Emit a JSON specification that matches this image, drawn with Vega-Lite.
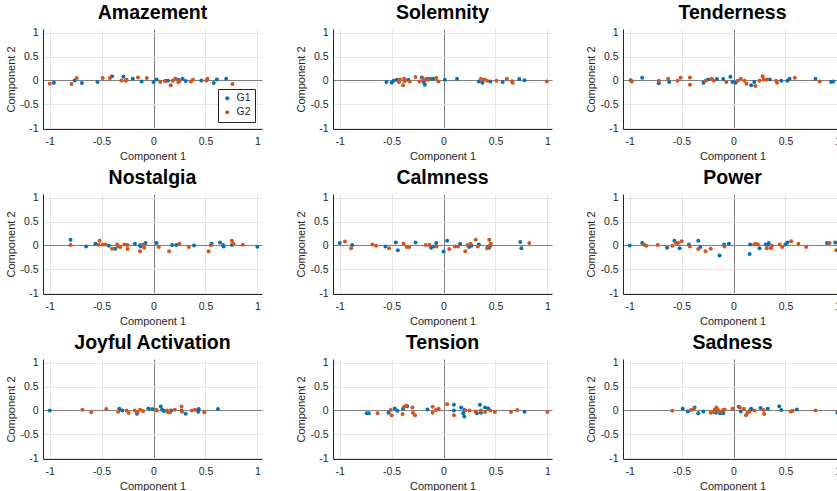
{
  "$schema": "https://vega.github.io/schema/vega-lite/v6.json",
  "padding": {"left": 5, "top": 3, "right": 0, "bottom": 0},
  "bounds": "flush",
  "columns": 3,
  "spacing": {"row": 65, "column": 71},
  "resolve": {"legend": {"color": "independent"}},
  "datasets": {
    "scores": [
      {"emotion": "Amazement", "group": "G1", "pc1": -0.96, "pc2": -0.05},
      {"emotion": "Amazement", "group": "G1", "pc1": -0.76, "pc2": 0.0},
      {"emotion": "Amazement", "group": "G1", "pc1": -0.69, "pc2": -0.055},
      {"emotion": "Amazement", "group": "G1", "pc1": -0.54, "pc2": -0.035},
      {"emotion": "Amazement", "group": "G1", "pc1": -0.40, "pc2": 0.09},
      {"emotion": "Amazement", "group": "G1", "pc1": -0.29, "pc2": 0.075},
      {"emotion": "Amazement", "group": "G1", "pc1": -0.20, "pc2": 0.035},
      {"emotion": "Amazement", "group": "G1", "pc1": -0.115, "pc2": -0.02},
      {"emotion": "Amazement", "group": "G1", "pc1": 0.0, "pc2": -0.035},
      {"emotion": "Amazement", "group": "G1", "pc1": 0.03, "pc2": 0.02},
      {"emotion": "Amazement", "group": "G1", "pc1": 0.115, "pc2": -0.005},
      {"emotion": "Amazement", "group": "G1", "pc1": 0.14, "pc2": -0.005},
      {"emotion": "Amazement", "group": "G1", "pc1": 0.24, "pc2": 0.015},
      {"emotion": "Amazement", "group": "G1", "pc1": 0.28, "pc2": 0.035},
      {"emotion": "Amazement", "group": "G1", "pc1": 0.31, "pc2": -0.01},
      {"emotion": "Amazement", "group": "G1", "pc1": 0.46, "pc2": 0.0},
      {"emotion": "Amazement", "group": "G1", "pc1": 0.58, "pc2": -0.055},
      {"emotion": "Amazement", "group": "G1", "pc1": 0.61, "pc2": 0.02},
      {"emotion": "Amazement", "group": "G1", "pc1": 0.70, "pc2": 0.035},
      {"emotion": "Amazement", "group": "G2", "pc1": -1.0, "pc2": -0.07},
      {"emotion": "Amazement", "group": "G2", "pc1": -0.79, "pc2": -0.075},
      {"emotion": "Amazement", "group": "G2", "pc1": -0.74, "pc2": 0.05},
      {"emotion": "Amazement", "group": "G2", "pc1": -0.49, "pc2": 0.05},
      {"emotion": "Amazement", "group": "G2", "pc1": -0.42, "pc2": 0.05},
      {"emotion": "Amazement", "group": "G2", "pc1": -0.31, "pc2": 0.0},
      {"emotion": "Amazement", "group": "G2", "pc1": -0.27, "pc2": -0.005},
      {"emotion": "Amazement", "group": "G2", "pc1": -0.26, "pc2": 0.015},
      {"emotion": "Amazement", "group": "G2", "pc1": -0.15, "pc2": 0.06},
      {"emotion": "Amazement", "group": "G2", "pc1": -0.065, "pc2": 0.05},
      {"emotion": "Amazement", "group": "G2", "pc1": 0.065, "pc2": -0.035},
      {"emotion": "Amazement", "group": "G2", "pc1": 0.11, "pc2": -0.015},
      {"emotion": "Amazement", "group": "G2", "pc1": 0.165, "pc2": -0.10},
      {"emotion": "Amazement", "group": "G2", "pc1": 0.185, "pc2": -0.005},
      {"emotion": "Amazement", "group": "G2", "pc1": 0.21, "pc2": 0.04},
      {"emotion": "Amazement", "group": "G2", "pc1": 0.24, "pc2": -0.04},
      {"emotion": "Amazement", "group": "G2", "pc1": 0.25, "pc2": -0.005},
      {"emotion": "Amazement", "group": "G2", "pc1": 0.36, "pc2": -0.02},
      {"emotion": "Amazement", "group": "G2", "pc1": 0.38, "pc2": 0.015},
      {"emotion": "Amazement", "group": "G2", "pc1": 0.51, "pc2": 0.0},
      {"emotion": "Amazement", "group": "G2", "pc1": 0.52, "pc2": 0.035},
      {"emotion": "Amazement", "group": "G2", "pc1": 0.76, "pc2": -0.075},

      {"emotion": "Solemnity", "group": "G1", "pc1": -0.55, "pc2": -0.035},
      {"emotion": "Solemnity", "group": "G1", "pc1": -0.50, "pc2": -0.05},
      {"emotion": "Solemnity", "group": "G1", "pc1": -0.48, "pc2": -0.005},
      {"emotion": "Solemnity", "group": "G1", "pc1": -0.45, "pc2": 0.015},
      {"emotion": "Solemnity", "group": "G1", "pc1": -0.34, "pc2": 0.015},
      {"emotion": "Solemnity", "group": "G1", "pc1": -0.21, "pc2": 0.06},
      {"emotion": "Solemnity", "group": "G1", "pc1": -0.19, "pc2": -0.035},
      {"emotion": "Solemnity", "group": "G1", "pc1": -0.18, "pc2": -0.09},
      {"emotion": "Solemnity", "group": "G1", "pc1": -0.16, "pc2": 0.035},
      {"emotion": "Solemnity", "group": "G1", "pc1": -0.13, "pc2": 0.035},
      {"emotion": "Solemnity", "group": "G1", "pc1": -0.10, "pc2": 0.035},
      {"emotion": "Solemnity", "group": "G1", "pc1": 0.013, "pc2": 0.015},
      {"emotion": "Solemnity", "group": "G1", "pc1": 0.13, "pc2": 0.035},
      {"emotion": "Solemnity", "group": "G1", "pc1": 0.34, "pc2": -0.02},
      {"emotion": "Solemnity", "group": "G1", "pc1": 0.375, "pc2": -0.05},
      {"emotion": "Solemnity", "group": "G1", "pc1": 0.45, "pc2": -0.02},
      {"emotion": "Solemnity", "group": "G1", "pc1": 0.57, "pc2": -0.035},
      {"emotion": "Solemnity", "group": "G1", "pc1": 0.73, "pc2": 0.03},
      {"emotion": "Solemnity", "group": "G1", "pc1": 0.78, "pc2": 0.005},
      {"emotion": "Solemnity", "group": "G2", "pc1": -0.43, "pc2": -0.035},
      {"emotion": "Solemnity", "group": "G2", "pc1": -0.42, "pc2": 0.02},
      {"emotion": "Solemnity", "group": "G2", "pc1": -0.39, "pc2": -0.10},
      {"emotion": "Solemnity", "group": "G2", "pc1": -0.38, "pc2": 0.035},
      {"emotion": "Solemnity", "group": "G2", "pc1": -0.375, "pc2": -0.015},
      {"emotion": "Solemnity", "group": "G2", "pc1": -0.325, "pc2": -0.02},
      {"emotion": "Solemnity", "group": "G2", "pc1": -0.27, "pc2": 0.07},
      {"emotion": "Solemnity", "group": "G2", "pc1": -0.23, "pc2": -0.02},
      {"emotion": "Solemnity", "group": "G2", "pc1": -0.20, "pc2": 0.05},
      {"emotion": "Solemnity", "group": "G2", "pc1": -0.18, "pc2": 0.005},
      {"emotion": "Solemnity", "group": "G2", "pc1": -0.15, "pc2": 0.015},
      {"emotion": "Solemnity", "group": "G2", "pc1": -0.07, "pc2": 0.05},
      {"emotion": "Solemnity", "group": "G2", "pc1": -0.05, "pc2": -0.02},
      {"emotion": "Solemnity", "group": "G2", "pc1": 0.36, "pc2": 0.035},
      {"emotion": "Solemnity", "group": "G2", "pc1": 0.395, "pc2": 0.02},
      {"emotion": "Solemnity", "group": "G2", "pc1": 0.42, "pc2": -0.005},
      {"emotion": "Solemnity", "group": "G2", "pc1": 0.51, "pc2": -0.005},
      {"emotion": "Solemnity", "group": "G2", "pc1": 0.61, "pc2": 0.035},
      {"emotion": "Solemnity", "group": "G2", "pc1": 0.66, "pc2": -0.015},
      {"emotion": "Solemnity", "group": "G2", "pc1": 0.665, "pc2": -0.05},
      {"emotion": "Solemnity", "group": "G2", "pc1": 0.995, "pc2": -0.02},

      {"emotion": "Tenderness", "group": "G1", "pc1": -0.99, "pc2": 0.005},
      {"emotion": "Tenderness", "group": "G1", "pc1": -0.88, "pc2": 0.055},
      {"emotion": "Tenderness", "group": "G1", "pc1": -0.72, "pc2": -0.06},
      {"emotion": "Tenderness", "group": "G1", "pc1": -0.62, "pc2": -0.035},
      {"emotion": "Tenderness", "group": "G1", "pc1": -0.29, "pc2": -0.05},
      {"emotion": "Tenderness", "group": "G1", "pc1": -0.245, "pc2": 0.02},
      {"emotion": "Tenderness", "group": "G1", "pc1": -0.16, "pc2": 0.03},
      {"emotion": "Tenderness", "group": "G1", "pc1": -0.10, "pc2": 0.03},
      {"emotion": "Tenderness", "group": "G1", "pc1": -0.03, "pc2": 0.075},
      {"emotion": "Tenderness", "group": "G1", "pc1": -0.01, "pc2": -0.035},
      {"emotion": "Tenderness", "group": "G1", "pc1": 0.02, "pc2": -0.05},
      {"emotion": "Tenderness", "group": "G1", "pc1": 0.17, "pc2": -0.10},
      {"emotion": "Tenderness", "group": "G1", "pc1": 0.20, "pc2": -0.035},
      {"emotion": "Tenderness", "group": "G1", "pc1": 0.35, "pc2": 0.02},
      {"emotion": "Tenderness", "group": "G1", "pc1": 0.46, "pc2": -0.005},
      {"emotion": "Tenderness", "group": "G1", "pc1": 0.52, "pc2": -0.005},
      {"emotion": "Tenderness", "group": "G1", "pc1": 0.54, "pc2": 0.035},
      {"emotion": "Tenderness", "group": "G1", "pc1": 0.79, "pc2": 0.035},
      {"emotion": "Tenderness", "group": "G1", "pc1": 0.94, "pc2": -0.035},
      {"emotion": "Tenderness", "group": "G1", "pc1": 0.96, "pc2": -0.02},
      {"emotion": "Tenderness", "group": "G2", "pc1": -0.98, "pc2": -0.02},
      {"emotion": "Tenderness", "group": "G2", "pc1": -0.72, "pc2": -0.005},
      {"emotion": "Tenderness", "group": "G2", "pc1": -0.63, "pc2": 0.035},
      {"emotion": "Tenderness", "group": "G2", "pc1": -0.54, "pc2": -0.005},
      {"emotion": "Tenderness", "group": "G2", "pc1": -0.51, "pc2": 0.055},
      {"emotion": "Tenderness", "group": "G2", "pc1": -0.42, "pc2": 0.06},
      {"emotion": "Tenderness", "group": "G2", "pc1": -0.42, "pc2": -0.09},
      {"emotion": "Tenderness", "group": "G2", "pc1": -0.27, "pc2": -0.005},
      {"emotion": "Tenderness", "group": "G2", "pc1": -0.21, "pc2": 0.035},
      {"emotion": "Tenderness", "group": "G2", "pc1": -0.19, "pc2": -0.005},
      {"emotion": "Tenderness", "group": "G2", "pc1": -0.07, "pc2": -0.035},
      {"emotion": "Tenderness", "group": "G2", "pc1": 0.04, "pc2": -0.005},
      {"emotion": "Tenderness", "group": "G2", "pc1": 0.07, "pc2": 0.035},
      {"emotion": "Tenderness", "group": "G2", "pc1": 0.105, "pc2": -0.005},
      {"emotion": "Tenderness", "group": "G2", "pc1": 0.125, "pc2": -0.07},
      {"emotion": "Tenderness", "group": "G2", "pc1": 0.21, "pc2": -0.115},
      {"emotion": "Tenderness", "group": "G2", "pc1": 0.25, "pc2": -0.005},
      {"emotion": "Tenderness", "group": "G2", "pc1": 0.28, "pc2": 0.09},
      {"emotion": "Tenderness", "group": "G2", "pc1": 0.29, "pc2": 0.02},
      {"emotion": "Tenderness", "group": "G2", "pc1": 0.32, "pc2": 0.02},
      {"emotion": "Tenderness", "group": "G2", "pc1": 0.41, "pc2": -0.005},
      {"emotion": "Tenderness", "group": "G2", "pc1": 0.42, "pc2": -0.05},
      {"emotion": "Tenderness", "group": "G2", "pc1": 0.59, "pc2": 0.055},
      {"emotion": "Tenderness", "group": "G2", "pc1": 0.83, "pc2": -0.02},

      {"emotion": "Nostalgia", "group": "G1", "pc1": -0.80, "pc2": 0.12},
      {"emotion": "Nostalgia", "group": "G1", "pc1": -0.65, "pc2": -0.02},
      {"emotion": "Nostalgia", "group": "G1", "pc1": -0.56, "pc2": 0.035},
      {"emotion": "Nostalgia", "group": "G1", "pc1": -0.43, "pc2": -0.005},
      {"emotion": "Nostalgia", "group": "G1", "pc1": -0.37, "pc2": -0.07},
      {"emotion": "Nostalgia", "group": "G1", "pc1": -0.18, "pc2": 0.035},
      {"emotion": "Nostalgia", "group": "G1", "pc1": -0.13, "pc2": 0.005},
      {"emotion": "Nostalgia", "group": "G1", "pc1": -0.125, "pc2": -0.02},
      {"emotion": "Nostalgia", "group": "G1", "pc1": -0.076, "pc2": 0.05},
      {"emotion": "Nostalgia", "group": "G1", "pc1": 0.03, "pc2": 0.05},
      {"emotion": "Nostalgia", "group": "G1", "pc1": 0.18, "pc2": 0.007},
      {"emotion": "Nostalgia", "group": "G1", "pc1": 0.22, "pc2": 0.007},
      {"emotion": "Nostalgia", "group": "G1", "pc1": 0.39, "pc2": 0.0},
      {"emotion": "Nostalgia", "group": "G1", "pc1": 0.56, "pc2": 0.035},
      {"emotion": "Nostalgia", "group": "G1", "pc1": 0.64, "pc2": 0.06},
      {"emotion": "Nostalgia", "group": "G1", "pc1": 0.67, "pc2": 0.007},
      {"emotion": "Nostalgia", "group": "G1", "pc1": 0.675, "pc2": -0.02},
      {"emotion": "Nostalgia", "group": "G1", "pc1": 0.755, "pc2": 0.007},
      {"emotion": "Nostalgia", "group": "G1", "pc1": 1.0, "pc2": -0.03},
      {"emotion": "Nostalgia", "group": "G2", "pc1": -0.80, "pc2": 0.007},
      {"emotion": "Nostalgia", "group": "G2", "pc1": -0.53, "pc2": 0.014},
      {"emotion": "Nostalgia", "group": "G2", "pc1": -0.52, "pc2": 0.10},
      {"emotion": "Nostalgia", "group": "G2", "pc1": -0.49, "pc2": 0.02},
      {"emotion": "Nostalgia", "group": "G2", "pc1": -0.46, "pc2": 0.02},
      {"emotion": "Nostalgia", "group": "G2", "pc1": -0.40, "pc2": -0.07},
      {"emotion": "Nostalgia", "group": "G2", "pc1": -0.35, "pc2": 0.02},
      {"emotion": "Nostalgia", "group": "G2", "pc1": -0.34, "pc2": -0.02},
      {"emotion": "Nostalgia", "group": "G2", "pc1": -0.32, "pc2": -0.035},
      {"emotion": "Nostalgia", "group": "G2", "pc1": -0.28, "pc2": 0.02},
      {"emotion": "Nostalgia", "group": "G2", "pc1": -0.25, "pc2": -0.075},
      {"emotion": "Nostalgia", "group": "G2", "pc1": -0.25, "pc2": 0.007},
      {"emotion": "Nostalgia", "group": "G2", "pc1": -0.13, "pc2": -0.12},
      {"emotion": "Nostalgia", "group": "G2", "pc1": -0.10, "pc2": 0.02},
      {"emotion": "Nostalgia", "group": "G2", "pc1": -0.09, "pc2": -0.05},
      {"emotion": "Nostalgia", "group": "G2", "pc1": 0.05, "pc2": -0.035},
      {"emotion": "Nostalgia", "group": "G2", "pc1": 0.15, "pc2": -0.12},
      {"emotion": "Nostalgia", "group": "G2", "pc1": 0.25, "pc2": 0.035},
      {"emotion": "Nostalgia", "group": "G2", "pc1": 0.34, "pc2": -0.035},
      {"emotion": "Nostalgia", "group": "G2", "pc1": 0.53, "pc2": -0.12},
      {"emotion": "Nostalgia", "group": "G2", "pc1": 0.55, "pc2": 0.007},
      {"emotion": "Nostalgia", "group": "G2", "pc1": 0.755, "pc2": 0.10},
      {"emotion": "Nostalgia", "group": "G2", "pc1": 0.77, "pc2": 0.035},
      {"emotion": "Nostalgia", "group": "G2", "pc1": 0.86, "pc2": 0.014},

      {"emotion": "Calmness", "group": "G1", "pc1": -1.0, "pc2": 0.05},
      {"emotion": "Calmness", "group": "G1", "pc1": -0.88, "pc2": 0.007},
      {"emotion": "Calmness", "group": "G1", "pc1": -0.56, "pc2": -0.02},
      {"emotion": "Calmness", "group": "G1", "pc1": -0.46, "pc2": 0.06},
      {"emotion": "Calmness", "group": "G1", "pc1": -0.44, "pc2": -0.10},
      {"emotion": "Calmness", "group": "G1", "pc1": -0.27, "pc2": 0.06},
      {"emotion": "Calmness", "group": "G1", "pc1": -0.12, "pc2": -0.05},
      {"emotion": "Calmness", "group": "G1", "pc1": -0.09, "pc2": -0.02},
      {"emotion": "Calmness", "group": "G1", "pc1": -0.07, "pc2": 0.05},
      {"emotion": "Calmness", "group": "G1", "pc1": 0.0, "pc2": -0.13},
      {"emotion": "Calmness", "group": "G1", "pc1": 0.035, "pc2": 0.10},
      {"emotion": "Calmness", "group": "G1", "pc1": 0.16, "pc2": 0.035},
      {"emotion": "Calmness", "group": "G1", "pc1": 0.245, "pc2": -0.035},
      {"emotion": "Calmness", "group": "G1", "pc1": 0.27, "pc2": -0.007},
      {"emotion": "Calmness", "group": "G1", "pc1": 0.34, "pc2": 0.02},
      {"emotion": "Calmness", "group": "G1", "pc1": 0.43, "pc2": -0.02},
      {"emotion": "Calmness", "group": "G1", "pc1": 0.44, "pc2": -0.05},
      {"emotion": "Calmness", "group": "G1", "pc1": 0.74, "pc2": 0.07},
      {"emotion": "Calmness", "group": "G1", "pc1": 0.75, "pc2": -0.06},
      {"emotion": "Calmness", "group": "G2", "pc1": -0.95, "pc2": 0.08},
      {"emotion": "Calmness", "group": "G2", "pc1": -0.89, "pc2": -0.06},
      {"emotion": "Calmness", "group": "G2", "pc1": -0.685, "pc2": 0.02},
      {"emotion": "Calmness", "group": "G2", "pc1": -0.65, "pc2": -0.007},
      {"emotion": "Calmness", "group": "G2", "pc1": -0.525, "pc2": -0.06},
      {"emotion": "Calmness", "group": "G2", "pc1": -0.385, "pc2": 0.035},
      {"emotion": "Calmness", "group": "G2", "pc1": -0.355, "pc2": -0.035},
      {"emotion": "Calmness", "group": "G2", "pc1": -0.33, "pc2": -0.035},
      {"emotion": "Calmness", "group": "G2", "pc1": -0.17, "pc2": 0.007},
      {"emotion": "Calmness", "group": "G2", "pc1": -0.135, "pc2": 0.007},
      {"emotion": "Calmness", "group": "G2", "pc1": -0.067, "pc2": -0.02},
      {"emotion": "Calmness", "group": "G2", "pc1": 0.055, "pc2": -0.075},
      {"emotion": "Calmness", "group": "G2", "pc1": 0.11, "pc2": -0.02},
      {"emotion": "Calmness", "group": "G2", "pc1": 0.14, "pc2": -0.02},
      {"emotion": "Calmness", "group": "G2", "pc1": 0.21, "pc2": -0.12},
      {"emotion": "Calmness", "group": "G2", "pc1": 0.23, "pc2": 0.007},
      {"emotion": "Calmness", "group": "G2", "pc1": 0.26, "pc2": 0.035},
      {"emotion": "Calmness", "group": "G2", "pc1": 0.31, "pc2": 0.12},
      {"emotion": "Calmness", "group": "G2", "pc1": 0.33, "pc2": -0.02},
      {"emotion": "Calmness", "group": "G2", "pc1": 0.42, "pc2": -0.06},
      {"emotion": "Calmness", "group": "G2", "pc1": 0.44, "pc2": 0.12},
      {"emotion": "Calmness", "group": "G2", "pc1": 0.45, "pc2": -0.007},
      {"emotion": "Calmness", "group": "G2", "pc1": 0.455, "pc2": 0.035},
      {"emotion": "Calmness", "group": "G2", "pc1": 0.825, "pc2": 0.05},

      {"emotion": "Power", "group": "G1", "pc1": -1.0, "pc2": 0.0},
      {"emotion": "Power", "group": "G1", "pc1": -0.88, "pc2": 0.05},
      {"emotion": "Power", "group": "G1", "pc1": -0.64, "pc2": -0.05},
      {"emotion": "Power", "group": "G1", "pc1": -0.57, "pc2": 0.10},
      {"emotion": "Power", "group": "G1", "pc1": -0.52, "pc2": -0.06},
      {"emotion": "Power", "group": "G1", "pc1": -0.43, "pc2": 0.02},
      {"emotion": "Power", "group": "G1", "pc1": -0.34, "pc2": 0.10},
      {"emotion": "Power", "group": "G1", "pc1": -0.32, "pc2": -0.035},
      {"emotion": "Power", "group": "G1", "pc1": -0.135, "pc2": -0.21},
      {"emotion": "Power", "group": "G1", "pc1": -0.09, "pc2": 0.02},
      {"emotion": "Power", "group": "G1", "pc1": -0.045, "pc2": 0.035},
      {"emotion": "Power", "group": "G1", "pc1": 0.155, "pc2": -0.18},
      {"emotion": "Power", "group": "G1", "pc1": 0.16, "pc2": 0.02},
      {"emotion": "Power", "group": "G1", "pc1": 0.25, "pc2": -0.06},
      {"emotion": "Power", "group": "G1", "pc1": 0.31, "pc2": 0.02},
      {"emotion": "Power", "group": "G1", "pc1": 0.33, "pc2": 0.014},
      {"emotion": "Power", "group": "G1", "pc1": 0.34, "pc2": 0.05},
      {"emotion": "Power", "group": "G1", "pc1": 0.50, "pc2": 0.02},
      {"emotion": "Power", "group": "G1", "pc1": 0.52, "pc2": 0.06},
      {"emotion": "Power", "group": "G1", "pc1": 0.90, "pc2": 0.05},
      {"emotion": "Power", "group": "G1", "pc1": 0.98, "pc2": 0.06},
      {"emotion": "Power", "group": "G2", "pc1": -0.86, "pc2": 0.014},
      {"emotion": "Power", "group": "G2", "pc1": -0.84, "pc2": -0.007},
      {"emotion": "Power", "group": "G2", "pc1": -0.73, "pc2": 0.007},
      {"emotion": "Power", "group": "G2", "pc1": -0.59, "pc2": -0.007},
      {"emotion": "Power", "group": "G2", "pc1": -0.555, "pc2": 0.05},
      {"emotion": "Power", "group": "G2", "pc1": -0.535, "pc2": 0.05},
      {"emotion": "Power", "group": "G2", "pc1": -0.50, "pc2": 0.09},
      {"emotion": "Power", "group": "G2", "pc1": -0.42, "pc2": -0.02},
      {"emotion": "Power", "group": "G2", "pc1": -0.34, "pc2": -0.075},
      {"emotion": "Power", "group": "G2", "pc1": -0.27, "pc2": -0.12},
      {"emotion": "Power", "group": "G2", "pc1": -0.22, "pc2": -0.07},
      {"emotion": "Power", "group": "G2", "pc1": -0.087, "pc2": -0.02},
      {"emotion": "Power", "group": "G2", "pc1": 0.20, "pc2": 0.02},
      {"emotion": "Power", "group": "G2", "pc1": 0.215, "pc2": 0.035},
      {"emotion": "Power", "group": "G2", "pc1": 0.235, "pc2": 0.02},
      {"emotion": "Power", "group": "G2", "pc1": 0.32, "pc2": -0.06},
      {"emotion": "Power", "group": "G2", "pc1": 0.36, "pc2": -0.06},
      {"emotion": "Power", "group": "G2", "pc1": 0.37, "pc2": -0.007},
      {"emotion": "Power", "group": "G2", "pc1": 0.445, "pc2": 0.02},
      {"emotion": "Power", "group": "G2", "pc1": 0.47, "pc2": -0.035},
      {"emotion": "Power", "group": "G2", "pc1": 0.555, "pc2": 0.09},
      {"emotion": "Power", "group": "G2", "pc1": 0.625, "pc2": 0.035},
      {"emotion": "Power", "group": "G2", "pc1": 0.70, "pc2": -0.035},
      {"emotion": "Power", "group": "G2", "pc1": 0.925, "pc2": 0.05},
      {"emotion": "Power", "group": "G2", "pc1": 0.99, "pc2": -0.10},

      {"emotion": "Joyful Activation", "group": "G1", "pc1": -1.0, "pc2": 0.0},
      {"emotion": "Joyful Activation", "group": "G1", "pc1": -0.33, "pc2": 0.035},
      {"emotion": "Joyful Activation", "group": "G1", "pc1": -0.30, "pc2": 0.0},
      {"emotion": "Joyful Activation", "group": "G1", "pc1": -0.16, "pc2": -0.07},
      {"emotion": "Joyful Activation", "group": "G1", "pc1": -0.05, "pc2": 0.04},
      {"emotion": "Joyful Activation", "group": "G1", "pc1": -0.013, "pc2": 0.03},
      {"emotion": "Joyful Activation", "group": "G1", "pc1": 0.07, "pc2": 0.085},
      {"emotion": "Joyful Activation", "group": "G1", "pc1": 0.083, "pc2": 0.014},
      {"emotion": "Joyful Activation", "group": "G1", "pc1": 0.10, "pc2": -0.014},
      {"emotion": "Joyful Activation", "group": "G1", "pc1": 0.16, "pc2": -0.035},
      {"emotion": "Joyful Activation", "group": "G1", "pc1": 0.17, "pc2": 0.0},
      {"emotion": "Joyful Activation", "group": "G1", "pc1": 0.27, "pc2": 0.0},
      {"emotion": "Joyful Activation", "group": "G1", "pc1": 0.31, "pc2": -0.07},
      {"emotion": "Joyful Activation", "group": "G1", "pc1": 0.43, "pc2": -0.03},
      {"emotion": "Joyful Activation", "group": "G1", "pc1": 0.435, "pc2": 0.03},
      {"emotion": "Joyful Activation", "group": "G1", "pc1": 0.62, "pc2": 0.03},
      {"emotion": "Joyful Activation", "group": "G2", "pc1": -0.685, "pc2": 0.014},
      {"emotion": "Joyful Activation", "group": "G2", "pc1": -0.60, "pc2": -0.04},
      {"emotion": "Joyful Activation", "group": "G2", "pc1": -0.455, "pc2": 0.03},
      {"emotion": "Joyful Activation", "group": "G2", "pc1": -0.34, "pc2": -0.03},
      {"emotion": "Joyful Activation", "group": "G2", "pc1": -0.26, "pc2": 0.0},
      {"emotion": "Joyful Activation", "group": "G2", "pc1": -0.24, "pc2": -0.055},
      {"emotion": "Joyful Activation", "group": "G2", "pc1": -0.18, "pc2": 0.0},
      {"emotion": "Joyful Activation", "group": "G2", "pc1": -0.155, "pc2": -0.04},
      {"emotion": "Joyful Activation", "group": "G2", "pc1": -0.13, "pc2": 0.014},
      {"emotion": "Joyful Activation", "group": "G2", "pc1": -0.10, "pc2": -0.014},
      {"emotion": "Joyful Activation", "group": "G2", "pc1": 0.026, "pc2": 0.014},
      {"emotion": "Joyful Activation", "group": "G2", "pc1": 0.03, "pc2": 0.0},
      {"emotion": "Joyful Activation", "group": "G2", "pc1": 0.13, "pc2": 0.0},
      {"emotion": "Joyful Activation", "group": "G2", "pc1": 0.14, "pc2": -0.04},
      {"emotion": "Joyful Activation", "group": "G2", "pc1": 0.155, "pc2": -0.02},
      {"emotion": "Joyful Activation", "group": "G2", "pc1": 0.205, "pc2": 0.014},
      {"emotion": "Joyful Activation", "group": "G2", "pc1": 0.27, "pc2": 0.085},
      {"emotion": "Joyful Activation", "group": "G2", "pc1": 0.275, "pc2": -0.03},
      {"emotion": "Joyful Activation", "group": "G2", "pc1": 0.37, "pc2": 0.0},
      {"emotion": "Joyful Activation", "group": "G2", "pc1": 0.40, "pc2": 0.014},
      {"emotion": "Joyful Activation", "group": "G2", "pc1": 0.49, "pc2": -0.04},

      {"emotion": "Tension", "group": "G1", "pc1": -0.74, "pc2": -0.06},
      {"emotion": "Tension", "group": "G1", "pc1": -0.72, "pc2": -0.06},
      {"emotion": "Tension", "group": "G1", "pc1": -0.53, "pc2": -0.05},
      {"emotion": "Tension", "group": "G1", "pc1": -0.47, "pc2": 0.04},
      {"emotion": "Tension", "group": "G1", "pc1": -0.445, "pc2": -0.007},
      {"emotion": "Tension", "group": "G1", "pc1": -0.39, "pc2": 0.035},
      {"emotion": "Tension", "group": "G1", "pc1": -0.35, "pc2": 0.09},
      {"emotion": "Tension", "group": "G1", "pc1": -0.155, "pc2": 0.02},
      {"emotion": "Tension", "group": "G1", "pc1": 0.10, "pc2": 0.12},
      {"emotion": "Tension", "group": "G1", "pc1": 0.10, "pc2": 0.0},
      {"emotion": "Tension", "group": "G1", "pc1": 0.17, "pc2": 0.06},
      {"emotion": "Tension", "group": "G1", "pc1": 0.19, "pc2": -0.06},
      {"emotion": "Tension", "group": "G1", "pc1": 0.20, "pc2": -0.13},
      {"emotion": "Tension", "group": "G1", "pc1": 0.20, "pc2": 0.007},
      {"emotion": "Tension", "group": "G1", "pc1": 0.32, "pc2": -0.06},
      {"emotion": "Tension", "group": "G1", "pc1": 0.35, "pc2": 0.12},
      {"emotion": "Tension", "group": "G1", "pc1": 0.36, "pc2": -0.05},
      {"emotion": "Tension", "group": "G1", "pc1": 0.40, "pc2": 0.06},
      {"emotion": "Tension", "group": "G1", "pc1": 0.43, "pc2": 0.04},
      {"emotion": "Tension", "group": "G1", "pc1": 0.78, "pc2": -0.03},
      {"emotion": "Tension", "group": "G2", "pc1": -0.635, "pc2": -0.06},
      {"emotion": "Tension", "group": "G2", "pc1": -0.51, "pc2": 0.007},
      {"emotion": "Tension", "group": "G2", "pc1": -0.50, "pc2": -0.10},
      {"emotion": "Tension", "group": "G2", "pc1": -0.395, "pc2": -0.075},
      {"emotion": "Tension", "group": "G2", "pc1": -0.38, "pc2": 0.075},
      {"emotion": "Tension", "group": "G2", "pc1": -0.36, "pc2": 0.10},
      {"emotion": "Tension", "group": "G2", "pc1": -0.30, "pc2": 0.06},
      {"emotion": "Tension", "group": "G2", "pc1": -0.295, "pc2": -0.05},
      {"emotion": "Tension", "group": "G2", "pc1": -0.275, "pc2": -0.10},
      {"emotion": "Tension", "group": "G2", "pc1": -0.105, "pc2": 0.075},
      {"emotion": "Tension", "group": "G2", "pc1": -0.105, "pc2": -0.05},
      {"emotion": "Tension", "group": "G2", "pc1": -0.073, "pc2": 0.007},
      {"emotion": "Tension", "group": "G2", "pc1": -0.047, "pc2": 0.035},
      {"emotion": "Tension", "group": "G2", "pc1": 0.035, "pc2": 0.13},
      {"emotion": "Tension", "group": "G2", "pc1": 0.10, "pc2": -0.10},
      {"emotion": "Tension", "group": "G2", "pc1": 0.21, "pc2": 0.0},
      {"emotion": "Tension", "group": "G2", "pc1": 0.25, "pc2": 0.0},
      {"emotion": "Tension", "group": "G2", "pc1": 0.31, "pc2": -0.02},
      {"emotion": "Tension", "group": "G2", "pc1": 0.36, "pc2": 0.0},
      {"emotion": "Tension", "group": "G2", "pc1": 0.40, "pc2": -0.035},
      {"emotion": "Tension", "group": "G2", "pc1": 0.45, "pc2": 0.0},
      {"emotion": "Tension", "group": "G2", "pc1": 0.495, "pc2": -0.035},
      {"emotion": "Tension", "group": "G2", "pc1": 0.65, "pc2": -0.035},
      {"emotion": "Tension", "group": "G2", "pc1": 0.71, "pc2": 0.007},
      {"emotion": "Tension", "group": "G2", "pc1": 1.0, "pc2": -0.035},

      {"emotion": "Sadness", "group": "G1", "pc1": -0.49, "pc2": 0.035},
      {"emotion": "Sadness", "group": "G1", "pc1": -0.44, "pc2": -0.02},
      {"emotion": "Sadness", "group": "G1", "pc1": -0.375, "pc2": 0.06},
      {"emotion": "Sadness", "group": "G1", "pc1": -0.34, "pc2": -0.06},
      {"emotion": "Sadness", "group": "G1", "pc1": -0.29, "pc2": -0.02},
      {"emotion": "Sadness", "group": "G1", "pc1": -0.17, "pc2": -0.05},
      {"emotion": "Sadness", "group": "G1", "pc1": -0.13, "pc2": -0.06},
      {"emotion": "Sadness", "group": "G1", "pc1": -0.10, "pc2": -0.06},
      {"emotion": "Sadness", "group": "G1", "pc1": 0.05, "pc2": 0.075},
      {"emotion": "Sadness", "group": "G1", "pc1": 0.07, "pc2": -0.02},
      {"emotion": "Sadness", "group": "G1", "pc1": 0.16, "pc2": 0.007},
      {"emotion": "Sadness", "group": "G1", "pc1": 0.17, "pc2": 0.035},
      {"emotion": "Sadness", "group": "G1", "pc1": 0.26, "pc2": 0.05},
      {"emotion": "Sadness", "group": "G1", "pc1": 0.33, "pc2": 0.035},
      {"emotion": "Sadness", "group": "G1", "pc1": 0.44, "pc2": 0.09},
      {"emotion": "Sadness", "group": "G1", "pc1": 0.46, "pc2": 0.007},
      {"emotion": "Sadness", "group": "G1", "pc1": 0.61, "pc2": 0.02},
      {"emotion": "Sadness", "group": "G1", "pc1": 1.0, "pc2": -0.05},
      {"emotion": "Sadness", "group": "G2", "pc1": -0.59, "pc2": -0.007},
      {"emotion": "Sadness", "group": "G2", "pc1": -0.41, "pc2": 0.007},
      {"emotion": "Sadness", "group": "G2", "pc1": -0.38, "pc2": 0.035},
      {"emotion": "Sadness", "group": "G2", "pc1": -0.22, "pc2": -0.05},
      {"emotion": "Sadness", "group": "G2", "pc1": -0.19, "pc2": -0.035},
      {"emotion": "Sadness", "group": "G2", "pc1": -0.18, "pc2": 0.02},
      {"emotion": "Sadness", "group": "G2", "pc1": -0.165, "pc2": 0.06},
      {"emotion": "Sadness", "group": "G2", "pc1": -0.15, "pc2": 0.007},
      {"emotion": "Sadness", "group": "G2", "pc1": -0.12, "pc2": -0.02},
      {"emotion": "Sadness", "group": "G2", "pc1": -0.10, "pc2": 0.007},
      {"emotion": "Sadness", "group": "G2", "pc1": -0.085, "pc2": 0.02},
      {"emotion": "Sadness", "group": "G2", "pc1": -0.01, "pc2": 0.035},
      {"emotion": "Sadness", "group": "G2", "pc1": 0.06, "pc2": 0.06},
      {"emotion": "Sadness", "group": "G2", "pc1": 0.10, "pc2": 0.035},
      {"emotion": "Sadness", "group": "G2", "pc1": 0.12, "pc2": -0.10},
      {"emotion": "Sadness", "group": "G2", "pc1": 0.135, "pc2": -0.05},
      {"emotion": "Sadness", "group": "G2", "pc1": 0.15, "pc2": -0.02},
      {"emotion": "Sadness", "group": "G2", "pc1": 0.20, "pc2": 0.0},
      {"emotion": "Sadness", "group": "G2", "pc1": 0.29, "pc2": 0.007},
      {"emotion": "Sadness", "group": "G2", "pc1": 0.295, "pc2": -0.075},
      {"emotion": "Sadness", "group": "G2", "pc1": 0.55, "pc2": -0.02},
      {"emotion": "Sadness", "group": "G2", "pc1": 0.57, "pc2": -0.007},
      {"emotion": "Sadness", "group": "G2", "pc1": 0.79, "pc2": 0.0}
    ]
  },
  "data": {"name": "scores"},
  "concat": [
    {
      "title": "Amazement", "width": 219, "height": 100,
      "transform": [{"filter": "datum.emotion === 'Amazement'"}],
      "mark": {"type": "circle", "size": 16, "opacity": 1},
      "encoding": {
        "x": {"field": "pc1", "type": "quantitative", "title": "Component 1", "scale": {"domain": [-1.065, 1.045], "nice": false, "zero": false}, "axis": {"values": [-1, -0.5, 0, 0.5, 1]}},
        "y": {"field": "pc2", "type": "quantitative", "title": "Component 2", "scale": {"domain": [-1.02, 1.08], "nice": false, "zero": false}, "axis": {"values": [-1, -0.5, 0, 0.5, 1]}},
        "color": {"field": "group", "type": "nominal", "scale": {"domain": ["G1", "G2"], "range": ["#0072BD", "#D95319"]},
          "legend": {"orient": "bottom-right", "title": null, "offset": 7, "strokeColor": "#262626", "fillColor": "white", "padding": 4, "rowPadding": 3, "labelFontSize": 10.5, "labelColor": "#262626", "symbolSize": 16, "symbolType": "circle", "symbolStrokeWidth": 0}}
      }
    },
    {
      "title": "Solemnity", "width": 219, "height": 100,
      "transform": [{"filter": "datum.emotion === 'Solemnity'"}],
      "mark": {"type": "circle", "size": 16, "opacity": 1},
      "encoding": {
        "x": {"field": "pc1", "type": "quantitative", "title": "Component 1", "scale": {"domain": [-1.065, 1.045], "nice": false, "zero": false}, "axis": {"values": [-1, -0.5, 0, 0.5, 1]}},
        "y": {"field": "pc2", "type": "quantitative", "title": "Component 2", "scale": {"domain": [-1.02, 1.08], "nice": false, "zero": false}, "axis": {"values": [-1, -0.5, 0, 0.5, 1]}},
        "color": {"field": "group", "type": "nominal", "scale": {"domain": ["G1", "G2"], "range": ["#0072BD", "#D95319"]}, "legend": null}
      }
    },
    {
      "title": "Tenderness", "width": 219, "height": 100,
      "transform": [{"filter": "datum.emotion === 'Tenderness'"}],
      "mark": {"type": "circle", "size": 16, "opacity": 1},
      "encoding": {
        "x": {"field": "pc1", "type": "quantitative", "title": "Component 1", "scale": {"domain": [-1.065, 1.045], "nice": false, "zero": false}, "axis": {"values": [-1, -0.5, 0, 0.5, 1]}},
        "y": {"field": "pc2", "type": "quantitative", "title": "Component 2", "scale": {"domain": [-1.02, 1.08], "nice": false, "zero": false}, "axis": {"values": [-1, -0.5, 0, 0.5, 1]}},
        "color": {"field": "group", "type": "nominal", "scale": {"domain": ["G1", "G2"], "range": ["#0072BD", "#D95319"]}, "legend": null}
      }
    },
    {
      "title": "Nostalgia", "width": 219, "height": 100,
      "transform": [{"filter": "datum.emotion === 'Nostalgia'"}],
      "mark": {"type": "circle", "size": 16, "opacity": 1},
      "encoding": {
        "x": {"field": "pc1", "type": "quantitative", "title": "Component 1", "scale": {"domain": [-1.065, 1.045], "nice": false, "zero": false}, "axis": {"values": [-1, -0.5, 0, 0.5, 1]}},
        "y": {"field": "pc2", "type": "quantitative", "title": "Component 2", "scale": {"domain": [-1.02, 1.08], "nice": false, "zero": false}, "axis": {"values": [-1, -0.5, 0, 0.5, 1]}},
        "color": {"field": "group", "type": "nominal", "scale": {"domain": ["G1", "G2"], "range": ["#0072BD", "#D95319"]}, "legend": null}
      }
    },
    {
      "title": "Calmness", "width": 219, "height": 100,
      "transform": [{"filter": "datum.emotion === 'Calmness'"}],
      "mark": {"type": "circle", "size": 16, "opacity": 1},
      "encoding": {
        "x": {"field": "pc1", "type": "quantitative", "title": "Component 1", "scale": {"domain": [-1.065, 1.045], "nice": false, "zero": false}, "axis": {"values": [-1, -0.5, 0, 0.5, 1]}},
        "y": {"field": "pc2", "type": "quantitative", "title": "Component 2", "scale": {"domain": [-1.02, 1.08], "nice": false, "zero": false}, "axis": {"values": [-1, -0.5, 0, 0.5, 1]}},
        "color": {"field": "group", "type": "nominal", "scale": {"domain": ["G1", "G2"], "range": ["#0072BD", "#D95319"]}, "legend": null}
      }
    },
    {
      "title": "Power", "width": 219, "height": 100,
      "transform": [{"filter": "datum.emotion === 'Power'"}],
      "mark": {"type": "circle", "size": 16, "opacity": 1},
      "encoding": {
        "x": {"field": "pc1", "type": "quantitative", "title": "Component 1", "scale": {"domain": [-1.065, 1.045], "nice": false, "zero": false}, "axis": {"values": [-1, -0.5, 0, 0.5, 1]}},
        "y": {"field": "pc2", "type": "quantitative", "title": "Component 2", "scale": {"domain": [-1.02, 1.08], "nice": false, "zero": false}, "axis": {"values": [-1, -0.5, 0, 0.5, 1]}},
        "color": {"field": "group", "type": "nominal", "scale": {"domain": ["G1", "G2"], "range": ["#0072BD", "#D95319"]}, "legend": null}
      }
    },
    {
      "title": "Joyful Activation", "width": 219, "height": 100,
      "transform": [{"filter": "datum.emotion === 'Joyful Activation'"}],
      "mark": {"type": "circle", "size": 16, "opacity": 1},
      "encoding": {
        "x": {"field": "pc1", "type": "quantitative", "title": "Component 1", "scale": {"domain": [-1.065, 1.045], "nice": false, "zero": false}, "axis": {"values": [-1, -0.5, 0, 0.5, 1]}},
        "y": {"field": "pc2", "type": "quantitative", "title": "Component 2", "scale": {"domain": [-1.02, 1.08], "nice": false, "zero": false}, "axis": {"values": [-1, -0.5, 0, 0.5, 1]}},
        "color": {"field": "group", "type": "nominal", "scale": {"domain": ["G1", "G2"], "range": ["#0072BD", "#D95319"]}, "legend": null}
      }
    },
    {
      "title": "Tension", "width": 219, "height": 100,
      "transform": [{"filter": "datum.emotion === 'Tension'"}],
      "mark": {"type": "circle", "size": 16, "opacity": 1},
      "encoding": {
        "x": {"field": "pc1", "type": "quantitative", "title": "Component 1", "scale": {"domain": [-1.065, 1.045], "nice": false, "zero": false}, "axis": {"values": [-1, -0.5, 0, 0.5, 1]}},
        "y": {"field": "pc2", "type": "quantitative", "title": "Component 2", "scale": {"domain": [-1.02, 1.08], "nice": false, "zero": false}, "axis": {"values": [-1, -0.5, 0, 0.5, 1]}},
        "color": {"field": "group", "type": "nominal", "scale": {"domain": ["G1", "G2"], "range": ["#0072BD", "#D95319"]}, "legend": null}
      }
    },
    {
      "title": "Sadness", "width": 219, "height": 100,
      "transform": [{"filter": "datum.emotion === 'Sadness'"}],
      "mark": {"type": "circle", "size": 16, "opacity": 1},
      "encoding": {
        "x": {"field": "pc1", "type": "quantitative", "title": "Component 1", "scale": {"domain": [-1.065, 1.045], "nice": false, "zero": false}, "axis": {"values": [-1, -0.5, 0, 0.5, 1]}},
        "y": {"field": "pc2", "type": "quantitative", "title": "Component 2", "scale": {"domain": [-1.02, 1.08], "nice": false, "zero": false}, "axis": {"values": [-1, -0.5, 0, 0.5, 1]}},
        "color": {"field": "group", "type": "nominal", "scale": {"domain": ["G1", "G2"], "range": ["#0072BD", "#D95319"]}, "legend": null}
      }
    }
  ],
  "config": {
    "font": "Liberation Sans",
    "background": "white",
    "view": {"stroke": null},
    "title": {"fontSize": 19.5, "fontWeight": "bold", "color": "black", "anchor": "middle", "offset": 0},
    "axis": {
      "grid": true,
      "gridColor": {"condition": {"test": "datum.value === 0", "value": "#808080"}, "value": "#e6e6e6"},
      "gridWidth": 1,
      "domainColor": "#262626",
      "domainWidth": 1,
      "ticks": false,
      "labelFontSize": 10.5,
      "labelColor": "#262626",
      "labelFlush": false,
      "labelOverlap": false,
      "labelExpr": "replace(format(datum.value, '~g'), '−', '-')",
      "titleFontSize": 11,
      "titleFontWeight": "normal",
      "titleColor": "#262626"
    },
    "axisX": {"labelPadding": 7, "titlePadding": 4},
    "axisY": {"labelPadding": 5, "titlePadding": 3}
  }
}
